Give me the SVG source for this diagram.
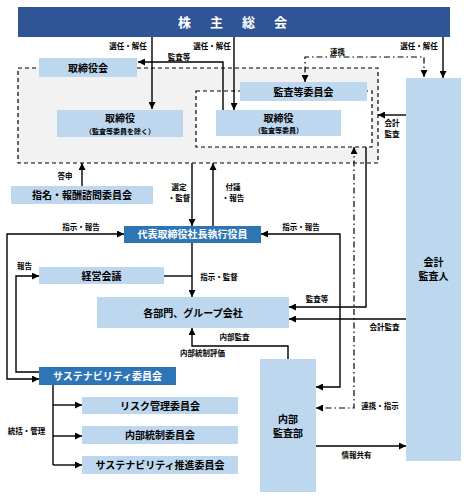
<svg xmlns="http://www.w3.org/2000/svg" width="468" height="499" viewBox="0 0 468 499">
<style>
text{font-family:"Noto Sans CJK JP","Noto Sans",sans-serif;fill:#000}
.box{fill:#bdd7ee}
.dark{fill:#2e75b6}
.bt{font-size:10px;font-weight:700;text-anchor:middle}
.wt{font-size:10px;font-weight:700;text-anchor:middle;fill:#fff}
.st{font-size:7px;font-weight:700;text-anchor:middle}
.lb{font-size:7.5px;font-weight:700;text-anchor:middle}
.ln{fill:none;stroke:#000;stroke-width:1.4}
.dd{fill:none;stroke:#000;stroke-width:1.2;stroke-dasharray:6,3,1.5,3}
</style>
<defs>
<marker id="ah" viewBox="0 0 10 10" refX="10" refY="5" markerWidth="7" markerHeight="7" markerUnits="userSpaceOnUse" orient="auto-start-reverse">
<path d="M0,0 L10,5 L0,10 z" fill="#000"/>
</marker>
</defs>
<rect width="468" height="499" fill="#fff"/>

<g id="board-area">
<rect x="18" y="68" width="360" height="95" fill="#f2f2f2" stroke="#000" stroke-width="1.2" stroke-dasharray="4,3"/>
<rect x="196" y="91" width="176" height="56" fill="#fff" stroke="#000" stroke-width="1.2" stroke-dasharray="4,3"/>
</g>

<g id="shareholders">
<rect x="18" y="7" width="432" height="30" fill="#2f5597"/>
<text x="234" y="27" font-size="13" font-weight="700" text-anchor="middle" letter-spacing="3" style="fill:#fff">株　主　総　会</text>
</g>

<g id="board">
<rect class="box" x="39" y="58" width="98" height="19"/>
<text class="bt" x="88" y="71.5">取締役会</text>
</g>

<g id="directors">
<rect class="box" x="57" y="110" width="126" height="27"/>
<text class="bt" x="120" y="122" font-size="11">取締役</text>
<text class="st" x="120" y="134">（監査等委員を除く）</text>
</g>

<g id="audit-committee">
<rect class="box" x="240" y="82" width="127" height="19"/>
<text class="bt" x="303.5" y="95.5">監査等委員会</text>
</g>

<g id="audit-directors">
<rect class="box" x="216" y="110" width="125" height="26"/>
<text class="bt" x="278.5" y="122" font-size="11">取締役</text>
<text class="st" x="278.5" y="133">（監査等委員）</text>
</g>

<g id="accounting-auditor">
<rect class="box" x="406" y="78" width="55" height="383"/>
<text class="bt" x="433.5" y="266" font-size="10.5">会計</text>
<text class="bt" x="433.5" y="280" font-size="10.5">監査人</text>
</g>

<g id="nomination">
<rect class="box" x="11" y="186" width="142" height="18"/>
<text class="bt" x="82" y="198.5">指名・報酬諮問委員会</text>
</g>

<g id="ceo">
<rect class="dark" x="124" y="226" width="137" height="17"/>
<text class="wt" x="192.5" y="238">代表取締役社長執行役員</text>
</g>

<g id="management-meeting">
<rect class="box" x="39" y="267" width="125" height="17"/>
<text class="bt" x="101.5" y="279.5">経営会議</text>
</g>

<g id="departments">
<rect class="box" x="97" y="297" width="192" height="31"/>
<text class="bt" x="193" y="316.5">各部門、グループ会社</text>
</g>

<g id="sustainability">
<rect class="dark" x="39" y="367" width="137" height="18"/>
<text class="wt" x="107.5" y="379.5">サステナビリティ委員会</text>
</g>

<g id="risk">
<rect class="box" x="82" y="397" width="156" height="17"/>
<text class="bt" x="160" y="409.5">リスク管理委員会</text>
</g>

<g id="internal-control">
<rect class="box" x="82" y="426" width="156" height="18"/>
<text class="bt" x="160" y="439">内部統制委員会</text>
</g>

<g id="sustainability-promotion">
<rect class="box" x="82" y="456" width="156" height="18"/>
<text class="bt" x="160" y="469">サステナビリティ推進委員会</text>
</g>

<g id="internal-audit">
<rect class="box" x="260" y="359" width="56" height="133"/>
<text class="bt" x="288" y="423" font-size="10.5">内部</text>
<text class="bt" x="288" y="437" font-size="10.5">監査部</text>
</g>

<g id="connectors">
<path class="ln" d="M152,37 V109" marker-end="url(#ah)"/>
<path class="ln" d="M234,37 V110" marker-end="url(#ah)"/>
<path class="ln" d="M443,37 V78" marker-end="url(#ah)"/>
<path class="ln" d="M223,110 V62 H138" marker-end="url(#ah)"/>
<path class="dd" d="M424,77 V57 H305 V82" marker-start="url(#ah)" marker-end="url(#ah)"/>
<path class="ln" d="M406,115 H378" marker-end="url(#ah)"/>
<path class="ln" d="M82,186 V163" marker-end="url(#ah)"/>
<path class="ln" d="M192,163 V226" marker-end="url(#ah)"/>
<path class="ln" d="M213,226 V163" marker-end="url(#ah)"/>
<path class="ln" d="M124,234 H7 V379 H39" marker-start="url(#ah)" marker-end="url(#ah)"/>
<path class="ln" d="M39,372 H16 V276 H39" marker-end="url(#ah)"/>
<path class="ln" d="M164,276 H192"/>
<path class="ln" d="M192,243 V297" marker-end="url(#ah)"/>
<path class="ln" d="M261,234 H340 V387 H316" marker-start="url(#ah)" marker-end="url(#ah)"/>
<path class="ln" d="M366,147 V307 H289" marker-end="url(#ah)"/>
<path class="dd" d="M354,147 V408 H316" marker-start="url(#ah)" marker-end="url(#ah)"/>
<path class="ln" d="M406,319 H289" marker-end="url(#ah)"/>
<path class="ln" d="M316,446 H406" marker-end="url(#ah)"/>
<path class="ln" d="M288,359 V346 H192 V328" marker-end="url(#ah)"/>
<path class="ln" d="M53,385 V465"/>
<path class="ln" d="M53,405 H82" marker-end="url(#ah)"/>
<path class="ln" d="M53,436 H82" marker-end="url(#ah)"/>
<path class="ln" d="M53,465 H82" marker-end="url(#ah)"/>

<text class="lb" x="128" y="49">選任・解任</text>
<text class="lb" x="212" y="49">選任・解任</text>
<text class="lb" x="419" y="49">選任・解任</text>
<text class="lb" x="179" y="60">監査等</text>
<text class="lb" x="337.5" y="54.5">連携</text>
<text class="lb" x="392" y="126">会計</text>
<text class="lb" x="392" y="136.5">監査</text>
<text class="lb" x="65" y="179">答申</text>
<text class="lb" x="179" y="190">選定</text>
<text class="lb" x="179" y="200.5">・監督</text>
<text class="lb" x="233" y="190">付議</text>
<text class="lb" x="233" y="200.5">・報告</text>
<text class="lb" x="81" y="230">指示・報告</text>
<text class="lb" x="24.5" y="269">報告</text>
<text class="lb" x="219" y="280">指示・監督</text>
<text class="lb" x="301" y="230">指示・報告</text>
<text class="lb" x="317" y="302">監査等</text>
<text class="lb" x="384.5" y="330">会計監査</text>
<text class="lb" x="234.5" y="340">内部監査</text>
<text class="lb" x="202.5" y="356">内部統制評価</text>
<text class="lb" x="380" y="409">連携・指示</text>
<text class="lb" x="356.5" y="458">情報共有</text>
<text class="lb" x="26.5" y="434">統括・管理</text>
</g>
</svg>
